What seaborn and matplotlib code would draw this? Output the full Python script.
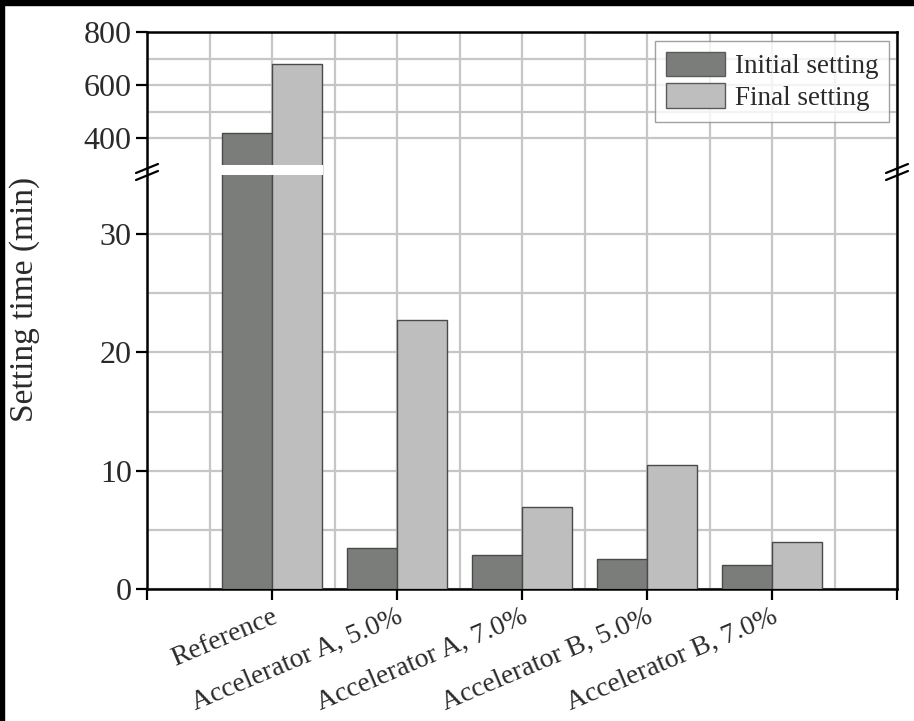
import numpy as np
import pandas as pd
import matplotlib
matplotlib.use("Agg")
import matplotlib.pyplot as plt
from matplotlib.patches import Rectangle
from matplotlib.lines import Line2D
from matplotlib.ticker import FixedLocator
import seaborn as sns

# ---- data ----
categories = ["Reference", "Accelerator A, 5.0%", "Accelerator A, 7.0%",
              "Accelerator B, 5.0%", "Accelerator B, 7.0%"]
series_names = ["Initial setting", "Final setting"]
initial_setting = [420, 3.5, 2.9, 2.5, 2.0]
final_setting = [680, 22.7, 6.9, 10.5, 4.0]
y_major_ticks = [0, 10, 20, 30, 400, 600, 800]
y_minor_ticks = [5, 15, 25, 500, 700]

df = pd.DataFrame({
    "Sample": categories * 2,
    "Series": [series_names[0]] * len(categories) + [series_names[1]] * len(categories),
    "Setting time": initial_setting + final_setting,
})

# ---- broken y scale: 0-35 below the break, 300-800 above ----
LOW_TOP, HIGH_BOTTOM, Y_TOP = 35.0, 300.0, 800.0
SEG_LOW, SEG_GAP, SEG_HIGH = 414.0, 10.0, 133.0


def fwd(y):
    y = np.asarray(y, dtype=float)
    return np.where(
        y <= LOW_TOP, y * SEG_LOW / LOW_TOP,
        np.where(y < HIGH_BOTTOM,
                 SEG_LOW + (y - LOW_TOP) * SEG_GAP / (HIGH_BOTTOM - LOW_TOP),
                 SEG_LOW + SEG_GAP + (y - HIGH_BOTTOM) * SEG_HIGH / (Y_TOP - HIGH_BOTTOM)))


def inv(z):
    z = np.asarray(z, dtype=float)
    return np.where(
        z <= SEG_LOW, z * LOW_TOP / SEG_LOW,
        np.where(z < SEG_LOW + SEG_GAP,
                 LOW_TOP + (z - SEG_LOW) * (HIGH_BOTTOM - LOW_TOP) / SEG_GAP,
                 HIGH_BOTTOM + (z - SEG_LOW - SEG_GAP) * (Y_TOP - HIGH_BOTTOM) / SEG_HIGH))


sns.set_theme(style="white")
plt.rcParams["font.family"] = ["Liberation Serif", "DejaVu Serif"]
plt.rcParams["text.color"] = "#2a2a2a"

W, H = 914, 721
fig = plt.figure(figsize=(W / 100, H / 100), dpi=100)
ax_l, ax_b, ax_w, ax_h = 147, 132, 750, 557
ax = fig.add_axes([ax_l / W, ax_b / H, ax_w / W, ax_h / H])

palette = {series_names[0]: "#7b7d7b", series_names[1]: "#bebebe"}
sns.barplot(data=df, x="Sample", y="Setting time", hue="Series",
            order=categories, hue_order=series_names, palette=palette,
            width=0.8, edgecolor="#4a4a4a", linewidth=1.0, saturation=1,
            ax=ax, zorder=3)

ax.set_yscale("function", functions=(fwd, inv))
ax.set_ylim(0, Y_TOP)
ax.set_xlim(-1, len(categories))

# white band across bars that pass through the break
for p in list(ax.patches):
    if p.get_height() > LOW_TOP:
        x0 = p.get_x()
        ax.fill_between([x0 - 0.01, x0 + p.get_width() + 0.01], LOW_TOP, HIGH_BOTTOM,
                        color="white", lw=0, zorder=4)

# ticks & grid
ax.yaxis.set_major_locator(FixedLocator(y_major_ticks))
ax.yaxis.set_minor_locator(FixedLocator(y_minor_ticks))
ax.set_yticklabels([str(t) for t in y_major_ticks])
xt = list(range(-1, len(categories) + 1))
ax.xaxis.set_major_locator(FixedLocator(xt))
ax.xaxis.set_minor_locator(FixedLocator([i + 0.5 for i in range(-1, len(categories))]))
ax.set_xticklabels([""] + categories + [""], rotation=23, ha="right",
                   rotation_mode="anchor", fontsize=20)

ax.grid(True, which="both", color="#c6c6c6", linewidth=1.6, zorder=0)
ax.set_axisbelow(True)
ax.tick_params(which="major", direction="out", length=8, width=1.6,
               color="black", labelcolor="#2a2a2a", pad=3,
               bottom=True, left=True)
ax.tick_params(axis="y", which="major", labelsize=23, pad=3)
ax.tick_params(which="minor", length=0)
for s in ax.spines.values():
    s.set_visible(True)
    s.set_color("black")
    s.set_linewidth(1.8)

ax.set_xlabel("")
ax.set_ylabel("Setting time (min)", fontsize=24, color="#2a2a2a")
ax.yaxis.set_label_coords(-0.143, 0.52)

# break marks on both spines
yc = float(fwd((LOW_TOP + HIGH_BOTTOM) / 2) / fwd(Y_TOP)) - 2 / ax_h
dx, dy, sep = 11 / ax_w, 4.5 / ax_h, 3.5 / ax_h
for xc in (0.0, 1.0):
    for off in (-sep, sep):
        ax.add_line(Line2D([xc - dx, xc + dx], [yc + off - dy, yc + off + dy],
                           transform=ax.transAxes, color="black", lw=1.6,
                           clip_on=False, zorder=6))

# legend
leg = ax.legend(loc="upper right", bbox_to_anchor=(1 - 8 / ax_w, 1 - 9 / ax_h),
                borderaxespad=0, fontsize=19.5, frameon=True, fancybox=False,
                handlelength=2.2, handleheight=1.0, handletextpad=0.35,
                labelspacing=0.15, borderpad=0.4, title=None)
leg.get_frame().set_edgecolor("#8a8a8a")
leg.get_frame().set_linewidth(1.0)
for h in leg.legend_handles:
    h.set_edgecolor("#5a5a5a")

# black strips at the left and top edges
fig.patches.append(Rectangle((0, 0), 4 / W, 1, transform=fig.transFigure,
                             color="black", zorder=10))
fig.patches.append(Rectangle((0, 1 - 5 / H), 1, 5 / H, transform=fig.transFigure,
                             color="black", zorder=10))

fig.savefig("out.png", dpi=100)
